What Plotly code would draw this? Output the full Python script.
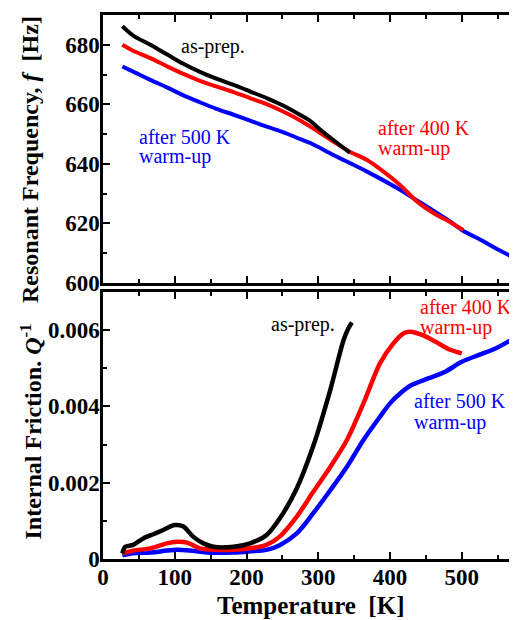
import plotly.graph_objects as go

# ---------------- data ----------------
# Resonant frequency (top panel)
T_f_asprep = [27, 42, 66, 89, 112, 135, 158, 182, 205, 228, 251, 275, 289, 298, 321, 344]
f_asprep = [686.2, 683.1, 680.0, 676.8, 673.6, 670.9, 668.6, 666.5, 664.3, 662.1, 659.6, 656.4, 654.4, 652.5, 648.0, 643.8]

T_f_400 = [27, 42, 66, 89, 112, 135, 158, 182, 205, 228, 251, 275, 289, 321, 344, 368, 391, 414, 437, 461, 484, 502]
f_400 = [680.0, 678.0, 675.5, 672.8, 670.2, 667.9, 666.0, 664.1, 662.1, 660.1, 657.6, 654.6, 652.5, 647.5, 644.1, 641.3, 637.4, 632.9, 627.5, 623.4, 620.4, 617.8]

T_f_500 = [27, 42, 66, 89, 112, 135, 158, 182, 205, 228, 251, 275, 289, 321, 368, 414, 437, 461, 484, 500, 530, 554, 577]
f_500 = [672.7, 671.0, 668.2, 665.7, 663.0, 660.7, 658.5, 656.5, 654.5, 652.5, 650.7, 648.3, 647.0, 643.0, 637.4, 631.3, 627.8, 624.2, 620.6, 617.8, 614.0, 610.8, 608.0]

# Internal friction (bottom panel)
T_q_asprep = [27, 31, 42, 56, 70, 84, 100, 112, 126, 140, 154, 182, 205, 228, 247, 270, 293, 317, 335, 342, 347]
q_asprep = [0.00015, 0.00032, 0.00037, 0.00054, 0.00065, 0.00076, 0.00089, 0.00085, 0.00058, 0.00041, 0.00032,
            0.00032, 0.00041, 0.00063, 0.00108, 0.00185, 0.00296, 0.00445, 0.00572, 0.00605, 0.00620]

T_q_400 = [27, 42, 66, 89, 103, 117, 135, 158, 182, 205, 228, 247, 270, 293, 317, 340, 363, 386, 405, 419, 428, 444, 463, 482, 500]
q_400 = [0.00015, 0.00022, 0.00028, 0.00041, 0.00045, 0.00043, 0.00028, 0.00024, 0.00024, 0.00028, 0.00037, 0.00060,
         0.00111, 0.00176, 0.00242, 0.00312, 0.00408, 0.00513, 0.00566, 0.00592, 0.00596, 0.00588, 0.00570, 0.00550, 0.00539]

T_q_500 = [27, 42, 66, 89, 103, 121, 145, 182, 205, 228, 247, 270, 293, 317, 340, 363, 386, 400, 414, 430, 454, 477, 500, 524, 547, 565, 577]
q_500 = [0.00010, 0.00015, 0.00017, 0.00022, 0.00024, 0.00022, 0.00017, 0.00017, 0.00020, 0.00024, 0.00037, 0.00067,
         0.00120, 0.00181, 0.00242, 0.00312, 0.00373, 0.00408, 0.00434, 0.00456, 0.00474, 0.00491, 0.00517, 0.00535,
         0.00552, 0.00570, 0.00583]

x_ticks = [0, 100, 200, 300, 400, 500]
f_ticks = [600, 620, 640, 660, 680]
q_ticks = [0, 0.002, 0.004, 0.006]
q_ticktext = ["0", "0.002", "0.004", "0.006"]

# ---------------- figure ----------------
BLACK, RED, BLUE = "#000000", "#ff0000", "#0000ff"
SERIF = "'Liberation Serif', 'Times New Roman', Times, serif"

fig = go.Figure()


def add(x, y, color, xa, ya, w):
    fig.add_trace(go.Scatter(x=x, y=y, mode="lines", xaxis=xa, yaxis=ya,
                             line=dict(color=color, width=w, shape="spline", smoothing=0.8),
                             showlegend=False, hoverinfo="skip"))


add(T_f_500, f_500, BLUE, "x", "y", 4)
add(T_f_400, f_400, RED, "x", "y", 4)
add(T_f_asprep, f_asprep, BLACK, "x", "y", 4)
add(T_q_500, q_500, BLUE, "x2", "y2", 4.5)
add(T_q_400, q_400, RED, "x2", "y2", 4.5)
add(T_q_asprep, q_asprep, BLACK, "x2", "y2", 4.5)

tickfont = dict(family=SERIF, size=23, color="black", weight="bold")
common = dict(showline=True, linewidth=2.5, linecolor="black", mirror="ticks",
              ticks="inside", ticklen=7, tickwidth=1.5, tickcolor="black",
              showgrid=False, zeroline=False, tickfont=tickfont, automargin=False)

# The page body adds an 8 px offset, so the figure is 8 px smaller than the window
fig.update_layout(
    width=509, height=612,
    margin=dict(l=95, r=0, t=7, b=61),
    plot_bgcolor="white", paper_bgcolor="white",
    font=dict(family=SERIF),
    xaxis=dict(domain=[0, 1], anchor="y", range=[0, 577], tickvals=x_ticks, showticklabels=False,
               minor=dict(dtick=50, ticklen=4, tickwidth=1.5, tickcolor="black", ticks="inside"), **common),
    yaxis=dict(domain=[0.5074, 1], anchor="x", range=[600, 690], tickvals=f_ticks, ticklabelstandoff=-4,
               minor=dict(dtick=10, ticklen=4, tickwidth=1.5, tickcolor="black", ticks="inside"), **common),
    xaxis2=dict(domain=[0, 1], anchor="y2", range=[0, 577], tickvals=x_ticks, matches="x", ticklabelstandoff=-4,
                minor=dict(dtick=50, ticklen=4, tickwidth=1.5, tickcolor="black", ticks="inside"), **common),
    yaxis2=dict(domain=[0, 0.4908], anchor="x2", range=[0, 0.007], tickvals=q_ticks, ticktext=q_ticktext,
                ticklabelstandoff=-4,
                minor=dict(dtick=0.001, ticklen=4, tickwidth=1.5, tickcolor="black", ticks="inside"), **common),
)

lab = dict(family=SERIF, size=20)
annots = [
    # top panel labels
    dict(x=106, y=679.5, xref="x", yref="y", text="as-prep.", xanchor="left", font=dict(color=BLACK, **lab)),
    dict(x=48, y=649.0, xref="x", yref="y", text="after 500 K", xanchor="left", font=dict(color=BLUE, **lab)),
    dict(x=48, y=642.5, xref="x", yref="y", text="warm-up", xanchor="left", font=dict(color=BLUE, **lab)),
    dict(x=381, y=652.0, xref="x", yref="y", text="after 400 K", xanchor="left", font=dict(color=RED, **lab)),
    dict(x=381, y=645.3, xref="x", yref="y", text="warm-up", xanchor="left", font=dict(color=RED, **lab)),
    # bottom panel labels
    dict(x=231.5, y=0.006136, xref="x2", yref="y2", text="as-prep.", xanchor="left", font=dict(color=BLACK, **lab)),
    dict(x=438.5, y=0.006618, xref="x2", yref="y2", text="after 400 K", xanchor="left", font=dict(color=RED, **lab)),
    dict(x=438.5, y=0.006075, xref="x2", yref="y2", text="warm-up", xanchor="left", font=dict(color=RED, **lab)),
    dict(x=430, y=0.004154, xref="x2", yref="y2", text="after 500 K", xanchor="left", font=dict(color=BLUE, **lab)),
    dict(x=430, y=0.003585, xref="x2", yref="y2", text="warm-up", xanchor="left", font=dict(color=BLUE, **lab)),
    # axis titles
    dict(x=(22 - 95) / 414, y=(551 - 152) / 544, xref="paper", yref="paper", textangle=-90,
         text="Resonant Frequency, <i>f</i>\u00a0 [Hz]", xanchor="center", yanchor="middle",
         font=dict(family=SERIF, size=24, color="black", weight="bold")),
    dict(x=(22 - 95) / 414, y=(551 - 423.5) / 544, xref="paper", yref="paper", textangle=-90,
         text="Internal Friction. <i>Q</i><sup>-1</sup>", xanchor="center", yanchor="middle",
         font=dict(family=SERIF, size=24, color="black", weight="bold")),
    dict(x=0.5, y=(551 - 597) / 544, xref="paper", yref="paper",
         text="Temperature\u00a0 [K]", xanchor="center", yanchor="middle",
         font=dict(family=SERIF, size=25, color="black", weight="bold")),
]
for a in annots:
    a.setdefault("yanchor", "middle")
    a["showarrow"] = False
    fig.add_annotation(**a)

fig.write_html("out.html")
